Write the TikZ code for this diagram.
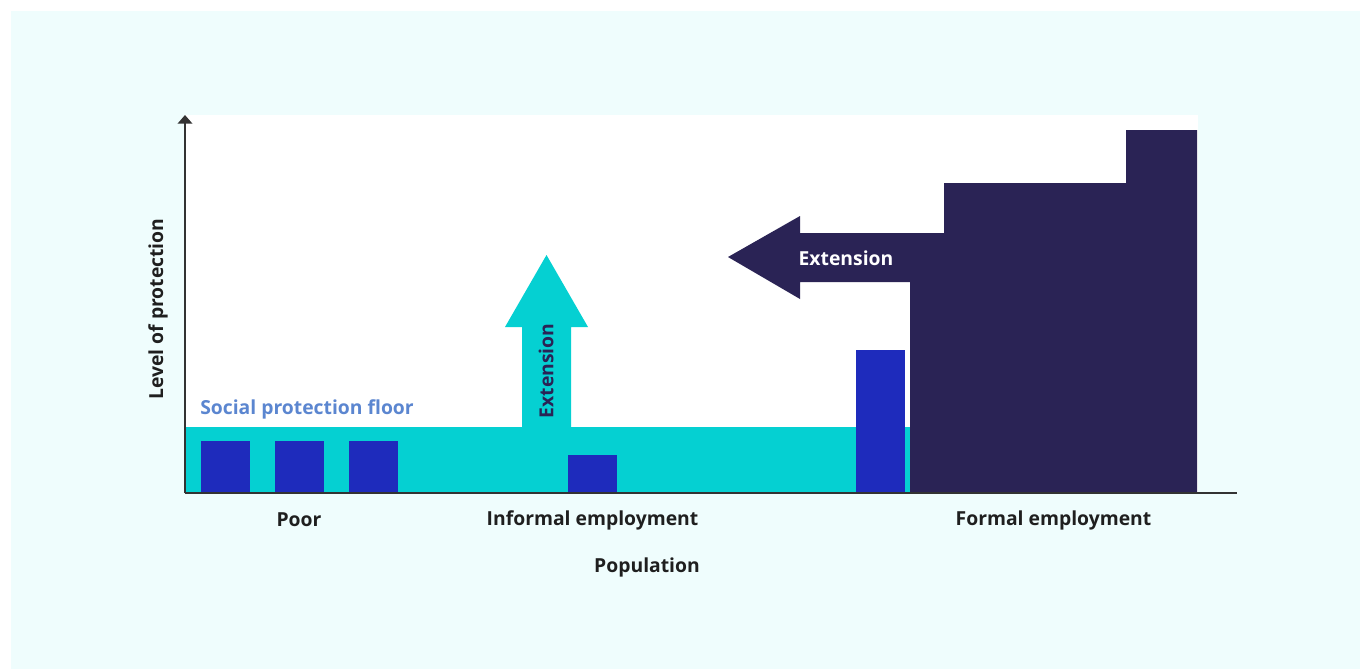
\documentclass[tikz,border=0pt]{standalone}
\usepackage{fontspec}
\setmainfont{Open Sans}
\usetikzlibrary{arrows.meta}
\definecolor{pagebg}{HTML}{EFFDFD}
\definecolor{floorcyan}{HTML}{05D0D2}
\definecolor{barblue}{HTML}{1E2BBC}
\definecolor{navy}{HTML}{2A2355}
\definecolor{axisgray}{HTML}{333333}
\definecolor{labeltext}{HTML}{1F1F1F}
\definecolor{floorlabel}{HTML}{5B86D0}
\tikzset{
  lbl/.style={font=\fontsize{14.5}{17}\selectfont\bfseries, text=labeltext, inner sep=0pt},
  bar/.style={fill=barblue, draw=none},
  axisline/.style={draw=axisgray, line width=1.1pt},
}
\begin{document}
\begin{tikzpicture}[x=0.75pt, y=-0.75pt]
  \useasboundingbox (0,0) rectangle (1360,669);
  % page background
  \fill[white] (0,0) rectangle (1360,669);
  \fill[pagebg] (11,11) rectangle (1360,669);
  % plot area
  \fill[white] (185,115) rectangle (1198,493);
  % social protection floor
  \fill[floorcyan] (185,427) rectangle (910,493);
  % upward extension arrow
  \fill[floorcyan] (522,428) -- (522,327) -- (505,327) -- (546.5,255)
    -- (588,327) -- (571,327) -- (571,428) -- cycle;
  % bars
  \fill[bar] (201,441) rectangle (250,493);
  \fill[bar] (275,441) rectangle (324,493);
  \fill[bar] (349,441) rectangle (398,493);
  \fill[bar] (568,455) rectangle (617,493);
  \fill[bar] (856,350) rectangle (905,493);
  % formal employment block with leftward extension arrow
  \fill[navy] (910,493) -- (910,282) -- (800,282) -- (800,299) -- (728,257)
    -- (800,216) -- (800,233) -- (944,233) -- (944,183) -- (1126,183)
    -- (1126,130) -- (1197,130) -- (1197,493) -- cycle;
  % axes
  \coordinate (origin) at (185,493);
  \coordinate (ytop) at (185,115);
  \coordinate (xend) at (1237,493);
  \draw[axisline] (origin) -- (xend);
  \draw[axisline, -{Triangle[width=11pt,length=6.5pt]}] (origin) -- (ytop);
  % labels
  \node[lbl, text=white] (extH) at (846,258) {Extension};
  \node[lbl, text=navy, rotate=90] (extV) at (546,371) {Extension};
  \node[lbl, text=floorlabel, anchor=west] (floor) at (200,409) {Social protection floor};
  \node[lbl, rotate=90] (ylab) at (158,309) {Level of protection};
  \node[lbl] (poor) at (299,520) {Poor};
  \node[lbl] (informal) at (592.5,520) {Informal employment};
  \node[lbl] (formal) at (1053.5,520) {Formal employment};
  \node[lbl] (pop) at (647,567) {Population};
\end{tikzpicture}
\end{document}
